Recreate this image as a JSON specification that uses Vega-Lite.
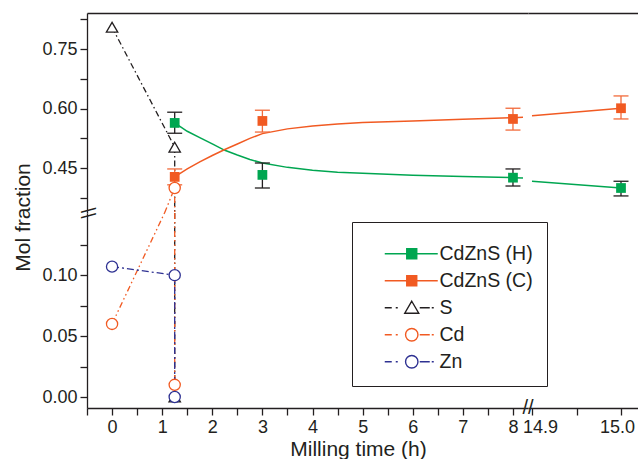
{
  "$schema": "https://vega.github.io/schema/vega-lite/v6.json",
  "padding": {"left": 12, "top": 10, "right": 0, "bottom": 0},
  "spacing": 0,
  "bounds": "flush",
  "columns": 2,
  "resolve": {
    "scale": {"stroke": "independent", "fill": "independent", "shape": "independent", "color": "independent", "strokeDash": "independent"},
    "legend": {"stroke": "independent", "fill": "independent", "shape": "independent", "color": "independent", "strokeDash": "independent"}
  },
  "datasets": {
    "sq": [
      {"s": "CdZnS (H)", "t": 1.25, "v": 0.564, "lo": 0.538, "hi": 0.591},
      {"s": "CdZnS (H)", "t": 3, "v": 0.433, "lo": 0.400, "hi": 0.463},
      {"s": "CdZnS (H)", "t": 8, "v": 0.426, "lo": 0.405, "hi": 0.448},
      {"s": "CdZnS (H)", "t": 15, "v": 0.400, "lo": 0.380, "hi": 0.417},
      {"s": "CdZnS (C)", "t": 1.25, "v": 0.428, "lo": 0.408, "hi": 0.448},
      {"s": "CdZnS (C)", "t": 3, "v": 0.569, "lo": 0.541, "hi": 0.596},
      {"s": "CdZnS (C)", "t": 8, "v": 0.574, "lo": 0.546, "hi": 0.601},
      {"s": "CdZnS (C)", "t": 15, "v": 0.601, "lo": 0.574, "hi": 0.632}
    ],
    "fit": [
      {"s": "CdZnS (H)", "t": 1.25, "v": 0.564},
      {"s": "CdZnS (H)", "t": 1.5, "v": 0.543},
      {"s": "CdZnS (H)", "t": 1.75, "v": 0.527},
      {"s": "CdZnS (H)", "t": 2.0, "v": 0.511},
      {"s": "CdZnS (H)", "t": 2.25, "v": 0.495},
      {"s": "CdZnS (H)", "t": 2.5, "v": 0.483},
      {"s": "CdZnS (H)", "t": 2.75, "v": 0.472},
      {"s": "CdZnS (H)", "t": 3.0, "v": 0.463},
      {"s": "CdZnS (H)", "t": 3.5, "v": 0.452},
      {"s": "CdZnS (H)", "t": 4.0, "v": 0.445},
      {"s": "CdZnS (H)", "t": 4.5, "v": 0.440},
      {"s": "CdZnS (H)", "t": 5.0, "v": 0.437},
      {"s": "CdZnS (H)", "t": 6.0, "v": 0.432},
      {"s": "CdZnS (H)", "t": 7.0, "v": 0.429},
      {"s": "CdZnS (H)", "t": 8.0, "v": 0.426},
      {"s": "CdZnS (H)", "t": 8.2, "v": 0.425},
      {"s": "CdZnS (H)", "t": 14.9, "v": 0.417},
      {"s": "CdZnS (H)", "t": 15.0, "v": 0.400},
      {"s": "CdZnS (C)", "t": 1.25, "v": 0.428},
      {"s": "CdZnS (C)", "t": 1.5, "v": 0.448},
      {"s": "CdZnS (C)", "t": 1.75, "v": 0.466},
      {"s": "CdZnS (C)", "t": 2.0, "v": 0.482},
      {"s": "CdZnS (C)", "t": 2.25, "v": 0.497},
      {"s": "CdZnS (C)", "t": 2.5, "v": 0.511},
      {"s": "CdZnS (C)", "t": 2.75, "v": 0.525},
      {"s": "CdZnS (C)", "t": 3.0, "v": 0.537},
      {"s": "CdZnS (C)", "t": 3.5, "v": 0.549},
      {"s": "CdZnS (C)", "t": 4.0, "v": 0.556},
      {"s": "CdZnS (C)", "t": 4.5, "v": 0.561},
      {"s": "CdZnS (C)", "t": 5.0, "v": 0.565},
      {"s": "CdZnS (C)", "t": 6.0, "v": 0.569},
      {"s": "CdZnS (C)", "t": 7.0, "v": 0.573},
      {"s": "CdZnS (C)", "t": 8.0, "v": 0.577},
      {"s": "CdZnS (C)", "t": 8.2, "v": 0.578},
      {"s": "CdZnS (C)", "t": 14.9, "v": 0.582},
      {"s": "CdZnS (C)", "t": 15.0, "v": 0.601}
    ],
    "elm": [
      {"s": "S", "t": 0, "v": 0.805},
      {"s": "S", "t": 1.25, "v": 0.503},
      {"s": "S", "t": 1.25, "v": 0},
      {"s": "Cd", "t": 0, "v": 0.06},
      {"s": "Cd", "t": 1.25, "v": 0.40},
      {"s": "Cd", "t": 1.25, "v": 0.01},
      {"s": "Zn", "t": 0, "v": 0.107},
      {"s": "Zn", "t": 1.25, "v": 0.10},
      {"s": "Zn", "t": 1.25, "v": 0}
    ],
    "ell": [
      {"s": "S", "seg": "S1", "i": 1, "t": 0, "v": 0.805},
      {"s": "S", "seg": "S1", "i": 2, "t": 1.25, "v": 0.503},
      {"s": "S", "seg": "S1", "i": 3, "t": 1.25, "v": 0.337},
      {"s": "S", "seg": "S2", "i": 4, "t": 1.25, "v": 0.151},
      {"s": "S", "seg": "S2", "i": 5, "t": 1.25, "v": 0},
      {"s": "Cd", "seg": "Cd1", "i": 1, "t": 1.047, "v": 0.337},
      {"s": "Cd", "seg": "Cd1", "i": 2, "t": 1.25, "v": 0.40},
      {"s": "Cd", "seg": "Cd1", "i": 3, "t": 1.25, "v": 0.337},
      {"s": "Cd", "seg": "Cd2", "i": 4, "t": 0, "v": 0.06},
      {"s": "Cd", "seg": "Cd2", "i": 5, "t": 1.047, "v": 0.151},
      {"s": "Cd", "seg": "Cd3", "i": 6, "t": 1.25, "v": 0.151},
      {"s": "Cd", "seg": "Cd3", "i": 7, "t": 1.25, "v": 0.01},
      {"s": "Zn", "seg": "Zn1", "i": 1, "t": 0, "v": 0.107},
      {"s": "Zn", "seg": "Zn1", "i": 2, "t": 1.25, "v": 0.10},
      {"s": "Zn", "seg": "Zn1", "i": 3, "t": 1.25, "v": 0}
    ],
    "leg": [
      {"s": "CdZnS (H)"}, {"s": "CdZnS (C)"}, {"s": "S"}, {"s": "Cd"}, {"s": "Zn"}
    ]
  },
  "concat": [
    {
      "width": 441,
      "height": 200,
      "layer": [
        {"data": {"name": "fit"}, "transform": [{"filter": "datum.t <= 8.3"}],
         "mark": {"type": "line", "strokeWidth": 1.5},
         "encoding": {
           "x": {"field": "t", "type": "quantitative", "scale": {"domain": [-0.5, 8.3], "nice": false, "zero": false}, "axis": {"orient": "top", "ticks": false, "labels": false, "title": null, "grid": false}},
           "y": {"field": "v", "type": "quantitative", "scale": {"domain": [0.337, 0.841], "nice": false, "zero": false}, "axis": {"orient": "left", "values": [0.375, 0.45, 0.525, 0.6, 0.675, 0.75, 0.825], "format": ".2f", "labelExpr": "abs(datum.value*20 - round(datum.value*20)) < 0.01 ? datum.label : ''", "title": "Mol fraction", "titleY": 204, "titlePadding": 8, "encode": {"ticks": {"update": {"x2": {"signal": "abs(datum.value*20 - round(datum.value*20)) < 0.01 ? -7 : -4"}}}}}},
           "stroke": {"field": "s", "type": "nominal", "legend": null, "scale": {"domain": ["CdZnS (H)", "CdZnS (C)", "S", "Cd", "Zn"], "range": ["#00a651", "#f15a22", "#231f20", "#f15a22", "#2e3192"]}}}},
        {"data": {"name": "ell"}, "transform": [{"filter": "datum.v >= 0.3"}],
         "mark": {"type": "line", "strokeWidth": 1.3},
         "encoding": {
           "x": {"field": "t", "type": "quantitative", "scale": {"domain": [-0.5, 8.3], "nice": false, "zero": false}, "axis": {"orient": "top", "ticks": false, "labels": false, "title": null, "grid": false}},
           "y": {"field": "v", "type": "quantitative", "scale": {"domain": [0.337, 0.841], "nice": false, "zero": false}, "axis": {"orient": "left", "values": [0.375, 0.45, 0.525, 0.6, 0.675, 0.75, 0.825], "format": ".2f", "labelExpr": "abs(datum.value*20 - round(datum.value*20)) < 0.01 ? datum.label : ''", "title": "Mol fraction", "titleY": 204, "titlePadding": 8, "encode": {"ticks": {"update": {"x2": {"signal": "abs(datum.value*20 - round(datum.value*20)) < 0.01 ? -7 : -4"}}}}}},
           "stroke": {"field": "s", "type": "nominal", "legend": null, "scale": {"domain": ["CdZnS (H)", "CdZnS (C)", "S", "Cd", "Zn"], "range": ["#00a651", "#f15a22", "#231f20", "#f15a22", "#2e3192"]}},
           "strokeDash": {"field": "s", "type": "nominal", "legend": null, "scale": {"domain": ["S", "Cd", "Zn"], "range": [[6, 3, 1.5, 3], [6, 3, 1.5, 3, 1.5, 3], [7, 3, 2, 3]]}},
           "detail": {"field": "seg"}, "order": {"field": "i"}}},
        {"data": {"name": "sq"}, "transform": [{"filter": "datum.t <= 8.3"}],
         "mark": {"type": "rule", "strokeWidth": 1.3},
         "encoding": {
           "x": {"field": "t", "type": "quantitative", "scale": {"domain": [-0.5, 8.3], "nice": false, "zero": false}, "axis": {"orient": "top", "ticks": false, "labels": false, "title": null, "grid": false}},
           "y": {"field": "lo", "type": "quantitative", "scale": {"domain": [0.337, 0.841], "nice": false, "zero": false}, "axis": {"orient": "left", "values": [0.375, 0.45, 0.525, 0.6, 0.675, 0.75, 0.825], "format": ".2f", "labelExpr": "abs(datum.value*20 - round(datum.value*20)) < 0.01 ? datum.label : ''", "title": "Mol fraction", "titleY": 204, "titlePadding": 8, "encode": {"ticks": {"update": {"x2": {"signal": "abs(datum.value*20 - round(datum.value*20)) < 0.01 ? -7 : -4"}}}}}},
           "y2": {"field": "hi"},
           "color": {"field": "s", "type": "nominal", "legend": null, "scale": {"domain": ["CdZnS (H)", "CdZnS (C)"], "range": ["#231f20", "#f26a3a"]}}}},
        {"data": {"name": "sq"}, "transform": [{"filter": "datum.t <= 8.3"}],
         "mark": {"type": "tick", "orient": "horizontal", "size": 15, "thickness": 1.3, "opacity": 1},
         "encoding": {
           "x": {"field": "t", "type": "quantitative", "scale": {"domain": [-0.5, 8.3], "nice": false, "zero": false}, "axis": {"orient": "top", "ticks": false, "labels": false, "title": null, "grid": false}},
           "y": {"field": "lo", "type": "quantitative", "scale": {"domain": [0.337, 0.841], "nice": false, "zero": false}, "axis": {"orient": "left", "values": [0.375, 0.45, 0.525, 0.6, 0.675, 0.75, 0.825], "format": ".2f", "labelExpr": "abs(datum.value*20 - round(datum.value*20)) < 0.01 ? datum.label : ''", "title": "Mol fraction", "titleY": 204, "titlePadding": 8, "encode": {"ticks": {"update": {"x2": {"signal": "abs(datum.value*20 - round(datum.value*20)) < 0.01 ? -7 : -4"}}}}}},
           "color": {"field": "s", "type": "nominal", "legend": null, "scale": {"domain": ["CdZnS (H)", "CdZnS (C)"], "range": ["#231f20", "#f26a3a"]}}}},
        {"data": {"name": "sq"}, "transform": [{"filter": "datum.t <= 8.3"}],
         "mark": {"type": "tick", "orient": "horizontal", "size": 15, "thickness": 1.3, "opacity": 1},
         "encoding": {
           "x": {"field": "t", "type": "quantitative", "scale": {"domain": [-0.5, 8.3], "nice": false, "zero": false}, "axis": {"orient": "top", "ticks": false, "labels": false, "title": null, "grid": false}},
           "y": {"field": "hi", "type": "quantitative", "scale": {"domain": [0.337, 0.841], "nice": false, "zero": false}, "axis": {"orient": "left", "values": [0.375, 0.45, 0.525, 0.6, 0.675, 0.75, 0.825], "format": ".2f", "labelExpr": "abs(datum.value*20 - round(datum.value*20)) < 0.01 ? datum.label : ''", "title": "Mol fraction", "titleY": 204, "titlePadding": 8, "encode": {"ticks": {"update": {"x2": {"signal": "abs(datum.value*20 - round(datum.value*20)) < 0.01 ? -7 : -4"}}}}}},
           "color": {"field": "s", "type": "nominal", "legend": null, "scale": {"domain": ["CdZnS (H)", "CdZnS (C)"], "range": ["#231f20", "#f26a3a"]}}}},
        {"data": {"name": "sq"}, "transform": [{"filter": "datum.t <= 8.3"}],
         "mark": {"type": "point", "shape": "square", "filled": true, "size": 95, "opacity": 1, "strokeWidth": 0},
         "encoding": {
           "x": {"field": "t", "type": "quantitative", "scale": {"domain": [-0.5, 8.3], "nice": false, "zero": false}, "axis": {"orient": "top", "ticks": false, "labels": false, "title": null, "grid": false}},
           "y": {"field": "v", "type": "quantitative", "scale": {"domain": [0.337, 0.841], "nice": false, "zero": false}, "axis": {"orient": "left", "values": [0.375, 0.45, 0.525, 0.6, 0.675, 0.75, 0.825], "format": ".2f", "labelExpr": "abs(datum.value*20 - round(datum.value*20)) < 0.01 ? datum.label : ''", "title": "Mol fraction", "titleY": 204, "titlePadding": 8, "encode": {"ticks": {"update": {"x2": {"signal": "abs(datum.value*20 - round(datum.value*20)) < 0.01 ? -7 : -4"}}}}}},
           "fill": {"field": "s", "type": "nominal", "legend": null, "scale": {"domain": ["CdZnS (H)", "CdZnS (C)"], "range": ["#00a651", "#f15a22"]}}}},
        {"data": {"name": "elm"}, "transform": [{"filter": "datum.s === 'S' && datum.v >= 0.3"}],
         "mark": {"type": "point", "shape": "triangle-up", "size": 130, "filled": false, "fill": "white", "stroke": "#231f20", "strokeWidth": 1.3, "opacity": 1},
         "encoding": {
           "x": {"field": "t", "type": "quantitative", "scale": {"domain": [-0.5, 8.3], "nice": false, "zero": false}, "axis": {"orient": "top", "ticks": false, "labels": false, "title": null, "grid": false}},
           "y": {"field": "v", "type": "quantitative", "scale": {"domain": [0.337, 0.841], "nice": false, "zero": false}, "axis": {"orient": "left", "values": [0.375, 0.45, 0.525, 0.6, 0.675, 0.75, 0.825], "format": ".2f", "labelExpr": "abs(datum.value*20 - round(datum.value*20)) < 0.01 ? datum.label : ''", "title": "Mol fraction", "titleY": 204, "titlePadding": 8, "encode": {"ticks": {"update": {"x2": {"signal": "abs(datum.value*20 - round(datum.value*20)) < 0.01 ? -7 : -4"}}}}}}}},
        {"data": {"name": "elm"}, "transform": [{"filter": "datum.s !== 'S' && datum.v >= 0.3"}],
         "mark": {"type": "point", "shape": "circle", "size": 125, "filled": false, "fill": "white", "strokeWidth": 1.3, "opacity": 1},
         "encoding": {
           "x": {"field": "t", "type": "quantitative", "scale": {"domain": [-0.5, 8.3], "nice": false, "zero": false}, "axis": {"orient": "top", "ticks": false, "labels": false, "title": null, "grid": false}},
           "y": {"field": "v", "type": "quantitative", "scale": {"domain": [0.337, 0.841], "nice": false, "zero": false}, "axis": {"orient": "left", "values": [0.375, 0.45, 0.525, 0.6, 0.675, 0.75, 0.825], "format": ".2f", "labelExpr": "abs(datum.value*20 - round(datum.value*20)) < 0.01 ? datum.label : ''", "title": "Mol fraction", "titleY": 204, "titlePadding": 8, "encode": {"ticks": {"update": {"x2": {"signal": "abs(datum.value*20 - round(datum.value*20)) < 0.01 ? -7 : -4"}}}}}},
           "stroke": {"field": "s", "type": "nominal", "legend": null, "scale": {"domain": ["CdZnS (H)", "CdZnS (C)", "S", "Cd", "Zn"], "range": ["#00a651", "#f15a22", "#231f20", "#f15a22", "#2e3192"]}}}}
      ]
    },
    {
      "width": 110,
      "height": 200,
      "layer": [
        {"data": {"name": "fit"}, "transform": [{"filter": "datum.t >= 14.8"}],
         "mark": {"type": "line", "strokeWidth": 1.5},
         "encoding": {
           "x": {"field": "t", "type": "quantitative", "scale": {"domain": [14.8955, 15.0191], "nice": false, "zero": false}, "axis": {"orient": "top", "ticks": false, "labels": false, "title": null, "grid": false}},
           "y": {"field": "v", "type": "quantitative", "scale": {"domain": [0.337, 0.841], "nice": false, "zero": false}, "axis": null},
           "stroke": {"field": "s", "type": "nominal", "legend": null, "scale": {"domain": ["CdZnS (H)", "CdZnS (C)", "S", "Cd", "Zn"], "range": ["#00a651", "#f15a22", "#231f20", "#f15a22", "#2e3192"]}}}},
        {"data": {"name": "sq"}, "transform": [{"filter": "datum.t >= 14.8"}],
         "mark": {"type": "rule", "strokeWidth": 1.3},
         "encoding": {
           "x": {"field": "t", "type": "quantitative", "scale": {"domain": [14.8955, 15.0191], "nice": false, "zero": false}, "axis": {"orient": "top", "ticks": false, "labels": false, "title": null, "grid": false}},
           "y": {"field": "lo", "type": "quantitative", "scale": {"domain": [0.337, 0.841], "nice": false, "zero": false}, "axis": null},
           "y2": {"field": "hi"},
           "color": {"field": "s", "type": "nominal", "legend": null, "scale": {"domain": ["CdZnS (H)", "CdZnS (C)"], "range": ["#231f20", "#f26a3a"]}}}},
        {"data": {"name": "sq"}, "transform": [{"filter": "datum.t >= 14.8"}],
         "mark": {"type": "tick", "orient": "horizontal", "size": 15, "thickness": 1.3, "opacity": 1},
         "encoding": {
           "x": {"field": "t", "type": "quantitative", "scale": {"domain": [14.8955, 15.0191], "nice": false, "zero": false}, "axis": {"orient": "top", "ticks": false, "labels": false, "title": null, "grid": false}},
           "y": {"field": "lo", "type": "quantitative", "scale": {"domain": [0.337, 0.841], "nice": false, "zero": false}, "axis": null},
           "color": {"field": "s", "type": "nominal", "legend": null, "scale": {"domain": ["CdZnS (H)", "CdZnS (C)"], "range": ["#231f20", "#f26a3a"]}}}},
        {"data": {"name": "sq"}, "transform": [{"filter": "datum.t >= 14.8"}],
         "mark": {"type": "tick", "orient": "horizontal", "size": 15, "thickness": 1.3, "opacity": 1},
         "encoding": {
           "x": {"field": "t", "type": "quantitative", "scale": {"domain": [14.8955, 15.0191], "nice": false, "zero": false}, "axis": {"orient": "top", "ticks": false, "labels": false, "title": null, "grid": false}},
           "y": {"field": "hi", "type": "quantitative", "scale": {"domain": [0.337, 0.841], "nice": false, "zero": false}, "axis": null},
           "color": {"field": "s", "type": "nominal", "legend": null, "scale": {"domain": ["CdZnS (H)", "CdZnS (C)"], "range": ["#231f20", "#f26a3a"]}}}},
        {"data": {"name": "sq"}, "transform": [{"filter": "datum.t >= 14.8"}],
         "mark": {"type": "point", "shape": "square", "filled": true, "size": 95, "opacity": 1, "strokeWidth": 0},
         "encoding": {
           "x": {"field": "t", "type": "quantitative", "scale": {"domain": [14.8955, 15.0191], "nice": false, "zero": false}, "axis": {"orient": "top", "ticks": false, "labels": false, "title": null, "grid": false}},
           "y": {"field": "v", "type": "quantitative", "scale": {"domain": [0.337, 0.841], "nice": false, "zero": false}, "axis": null},
           "fill": {"field": "s", "type": "nominal", "legend": null, "scale": {"domain": ["CdZnS (H)", "CdZnS (C)"], "range": ["#00a651", "#f15a22"]}}}}
      ]
    },
    {
      "width": 441,
      "height": 195,
      "layer": [
        {"data": {"name": "ell"}, "transform": [{"filter": "datum.v <= 0.2"}],
         "mark": {"type": "line", "strokeWidth": 1.3},
         "encoding": {
           "x": {"field": "t", "type": "quantitative", "scale": {"domain": [-0.5, 8.3], "nice": false, "zero": false}, "axis": {"orient": "bottom", "values": [-0.5, 0, 0.5, 1, 1.5, 2, 2.5, 3, 3.5, 4, 4.5, 5, 5.5, 6, 6.5, 7, 7.5, 8], "format": ".1f", "labelExpr": "abs(datum.value - round(datum.value)) < 0.01 && datum.value >= 0 ? format(datum.value, 'd') : ''", "title": "Milling time (h)", "titleX": 271, "titlePadding": 2, "encode": {"ticks": {"update": {"y2": {"signal": "abs(datum.value - round(datum.value)) < 0.01 ? 7 : 4"}}}}}},
           "y": {"field": "v", "type": "quantitative", "scale": {"domain": [-0.009, 0.151], "nice": false, "zero": false}, "axis": {"orient": "left", "values": [0, 0.025, 0.05, 0.075, 0.1, 0.125], "format": ".2f", "labelExpr": "abs(datum.value*20 - round(datum.value*20)) < 0.01 ? datum.label : ''", "title": null, "encode": {"ticks": {"update": {"x2": {"signal": "abs(datum.value*20 - round(datum.value*20)) < 0.01 ? -7 : -4"}}}}}},
           "stroke": {"field": "s", "type": "nominal", "scale": {"domain": ["CdZnS (H)", "CdZnS (C)", "S", "Cd", "Zn"], "range": ["#00a651", "#f15a22", "#231f20", "#f15a22", "#2e3192"]},
                      "legend": {"orient": "none", "legendX": 265, "legendY": 9, "title": " "}},
           "strokeDash": {"field": "s", "type": "nominal", "legend": null, "scale": {"domain": ["S", "Cd", "Zn"], "range": [[6, 3, 1.5, 3], [6, 3, 1.5, 3, 1.5, 3], [7, 3, 2, 3]]}},
           "detail": {"field": "seg"}, "order": {"field": "i"}}},
        {"data": {"name": "elm"}, "transform": [{"filter": "datum.s === 'S' && datum.v <= 0.2"}],
         "mark": {"type": "point", "shape": "triangle-up", "size": 130, "filled": false, "fill": "white", "stroke": "#231f20", "strokeWidth": 1.3, "opacity": 1},
         "encoding": {
           "x": {"field": "t", "type": "quantitative", "scale": {"domain": [-0.5, 8.3], "nice": false, "zero": false}, "axis": {"orient": "bottom", "values": [-0.5, 0, 0.5, 1, 1.5, 2, 2.5, 3, 3.5, 4, 4.5, 5, 5.5, 6, 6.5, 7, 7.5, 8], "format": ".1f", "labelExpr": "abs(datum.value - round(datum.value)) < 0.01 && datum.value >= 0 ? format(datum.value, 'd') : ''", "title": "Milling time (h)", "titleX": 271, "titlePadding": 2, "encode": {"ticks": {"update": {"y2": {"signal": "abs(datum.value - round(datum.value)) < 0.01 ? 7 : 4"}}}}}},
           "y": {"field": "v", "type": "quantitative", "scale": {"domain": [-0.009, 0.151], "nice": false, "zero": false}, "axis": {"orient": "left", "values": [0, 0.025, 0.05, 0.075, 0.1, 0.125], "format": ".2f", "labelExpr": "abs(datum.value*20 - round(datum.value*20)) < 0.01 ? datum.label : ''", "title": null, "encode": {"ticks": {"update": {"x2": {"signal": "abs(datum.value*20 - round(datum.value*20)) < 0.01 ? -7 : -4"}}}}}}}},
        {"data": {"name": "elm"}, "transform": [{"filter": "datum.s !== 'S' && datum.v <= 0.2"}],
         "mark": {"type": "point", "shape": "circle", "size": 125, "filled": false, "fill": "white", "strokeWidth": 1.3, "opacity": 1},
         "encoding": {
           "x": {"field": "t", "type": "quantitative", "scale": {"domain": [-0.5, 8.3], "nice": false, "zero": false}, "axis": {"orient": "bottom", "values": [-0.5, 0, 0.5, 1, 1.5, 2, 2.5, 3, 3.5, 4, 4.5, 5, 5.5, 6, 6.5, 7, 7.5, 8], "format": ".1f", "labelExpr": "abs(datum.value - round(datum.value)) < 0.01 && datum.value >= 0 ? format(datum.value, 'd') : ''", "title": "Milling time (h)", "titleX": 271, "titlePadding": 2, "encode": {"ticks": {"update": {"y2": {"signal": "abs(datum.value - round(datum.value)) < 0.01 ? 7 : 4"}}}}}},
           "y": {"field": "v", "type": "quantitative", "scale": {"domain": [-0.009, 0.151], "nice": false, "zero": false}, "axis": {"orient": "left", "values": [0, 0.025, 0.05, 0.075, 0.1, 0.125], "format": ".2f", "labelExpr": "abs(datum.value*20 - round(datum.value*20)) < 0.01 ? datum.label : ''", "title": null, "encode": {"ticks": {"update": {"x2": {"signal": "abs(datum.value*20 - round(datum.value*20)) < 0.01 ? -7 : -4"}}}}}},
           "stroke": {"field": "s", "type": "nominal", "scale": {"domain": ["CdZnS (H)", "CdZnS (C)", "S", "Cd", "Zn"], "range": ["#00a651", "#f15a22", "#231f20", "#f15a22", "#2e3192"]},
                      "legend": {"orient": "none", "legendX": 265, "legendY": 9, "title": " "}}}},
        {"data": {"values": [{}]},
         "mark": {"type": "text", "text": "//", "fontSize": 20, "align": "center", "baseline": "middle", "color": "#231f20"},
         "encoding": {
           "x": {"datum": 8.3, "type": "quantitative", "scale": {"domain": [-0.5, 8.3], "nice": false, "zero": false}, "axis": {"orient": "bottom", "values": [-0.5, 0, 0.5, 1, 1.5, 2, 2.5, 3, 3.5, 4, 4.5, 5, 5.5, 6, 6.5, 7, 7.5, 8], "format": ".1f", "labelExpr": "abs(datum.value - round(datum.value)) < 0.01 && datum.value >= 0 ? format(datum.value, 'd') : ''", "title": "Milling time (h)", "titleX": 271, "titlePadding": 2, "encode": {"ticks": {"update": {"y2": {"signal": "abs(datum.value - round(datum.value)) < 0.01 ? 7 : 4"}}}}}},
           "y": {"datum": -0.009, "type": "quantitative", "scale": {"domain": [-0.009, 0.151], "nice": false, "zero": false}, "axis": {"orient": "left", "values": [0, 0.025, 0.05, 0.075, 0.1, 0.125], "format": ".2f", "labelExpr": "abs(datum.value*20 - round(datum.value*20)) < 0.01 ? datum.label : ''", "title": null, "encode": {"ticks": {"update": {"x2": {"signal": "abs(datum.value*20 - round(datum.value*20)) < 0.01 ? -7 : -4"}}}}}}}},
        {"data": {"values": [{}]},
         "mark": {"type": "text", "text": "\\\\", "angle": 90, "fontSize": 20, "align": "center", "baseline": "middle", "color": "#231f20"},
         "encoding": {
           "x": {"datum": -0.5, "type": "quantitative", "scale": {"domain": [-0.5, 8.3], "nice": false, "zero": false}, "axis": {"orient": "bottom", "values": [-0.5, 0, 0.5, 1, 1.5, 2, 2.5, 3, 3.5, 4, 4.5, 5, 5.5, 6, 6.5, 7, 7.5, 8], "format": ".1f", "labelExpr": "abs(datum.value - round(datum.value)) < 0.01 && datum.value >= 0 ? format(datum.value, 'd') : ''", "title": "Milling time (h)", "titleX": 271, "titlePadding": 2, "encode": {"ticks": {"update": {"y2": {"signal": "abs(datum.value - round(datum.value)) < 0.01 ? 7 : 4"}}}}}},
           "y": {"datum": 0.151, "type": "quantitative", "scale": {"domain": [-0.009, 0.151], "nice": false, "zero": false}, "axis": {"orient": "left", "values": [0, 0.025, 0.05, 0.075, 0.1, 0.125], "format": ".2f", "labelExpr": "abs(datum.value*20 - round(datum.value*20)) < 0.01 ? datum.label : ''", "title": null, "encode": {"ticks": {"update": {"x2": {"signal": "abs(datum.value*20 - round(datum.value*20)) < 0.01 ? -7 : -4"}}}}}}}},
        {"data": {"name": "leg"},
         "mark": {"type": "point", "opacity": 0},
         "encoding": {
           "stroke": {"field": "s", "type": "nominal", "scale": {"domain": ["CdZnS (H)", "CdZnS (C)", "S", "Cd", "Zn"], "range": ["#00a651", "#f15a22", "#231f20", "#f15a22", "#2e3192"]},
                      "legend": {"orient": "none", "legendX": 265, "legendY": 9, "title": " "}},
           "fill": {"field": "s", "type": "nominal", "scale": {"domain": ["CdZnS (H)", "CdZnS (C)", "S", "Cd", "Zn"], "range": ["#00a651", "#f15a22", "white", "white", "white"]},
                    "legend": {"orient": "none", "legendX": 265, "legendY": 9, "title": " "}},
           "shape": {"field": "s", "type": "nominal",
                     "scale": {"domain": ["CdZnS (H)", "CdZnS (C)", "S", "Cd", "Zn"],
                               "range": ["M-1,0H9.6M3.4,-1H5.4V1H3.4Z",
                                         "M-1,0H9.6M3.4,-1H5.4V1H3.4Z",
                                         "M-1,0H0.4M1.2,0H1.6M6,0H8M8.4,0H8.8M4.4,-1.3L5.8,1.1H3Z",
                                         "M-1,0H0.4M1.2,0H1.6M6,0H8M8.4,0H8.8M5.64,0A1.24,1.24,0,1,1,3.16,0A1.24,1.24,0,1,1,5.64,0Z",
                                         "M-1,0H0.4M1.2,0H1.6M6,0H8M8.4,0H8.8M5.64,0A1.24,1.24,0,1,1,3.16,0A1.24,1.24,0,1,1,5.64,0Z"]},
                     "legend": {"orient": "none", "legendX": 265, "legendY": 9, "title": " "}}
         }}
      ]
    },
    {
      "width": 110,
      "height": 195,
      "layer": [
        {"data": {"name": "sq"}, "transform": [{"filter": "datum.v < 0"}],
         "mark": {"type": "point", "opacity": 0},
         "encoding": {
           "x": {"field": "t", "type": "quantitative", "scale": {"domain": [14.8955, 15.0191], "nice": false, "zero": false}, "axis": {"orient": "bottom", "values": [14.9, 14.95, 15.0], "format": ".1f", "labelExpr": "abs(datum.value*10 - round(datum.value*10)) < 0.01 ? datum.label : ''", "title": null, "labelOffset": {"condition": {"test": "datum.value < 14.92", "value": 8}, "value": -4}, "encode": {"ticks": {"update": {"y2": {"signal": "abs(datum.value*10 - round(datum.value*10)) < 0.01 ? 7 : 4"}}}}}},
           "y": {"field": "v", "type": "quantitative", "scale": {"domain": [-0.009, 0.151], "nice": false, "zero": false}, "axis": null}}}
      ]
    }
  ],
  "config": {
    "font": "Liberation Sans",
    "view": {"stroke": null},
    "axis": {"domainColor": "#231f20", "domainWidth": 1.3, "tickColor": "#231f20", "tickWidth": 1.3, "tickSize": 7, "labelOverlap": false,
             "labelFontSize": 18, "labelColor": "#231f20", "labelFont": "Liberation Sans", "labelPadding": 3,
             "titleFont": "Liberation Sans", "titleFontSize": 21, "titleFontWeight": "normal", "titleColor": "#231f20", "grid": false},
    "legend": {"symbolOpacity": 1, "symbolSize": 100, "symbolStrokeWidth": 1.4, "labelFontSize": 19.5, "labelFont": "Liberation Sans",
               "labelColor": "#231f20", "labelOffset": 40, "rowPadding": 6, "padding": 14, "symbolOffset": 14, "gridAlign": "all",
               "titleFontSize": 6, "titlePadding": 2, "strokeColor": "#231f20", "fillColor": "white", "labelLimit": 0}
  }
}
